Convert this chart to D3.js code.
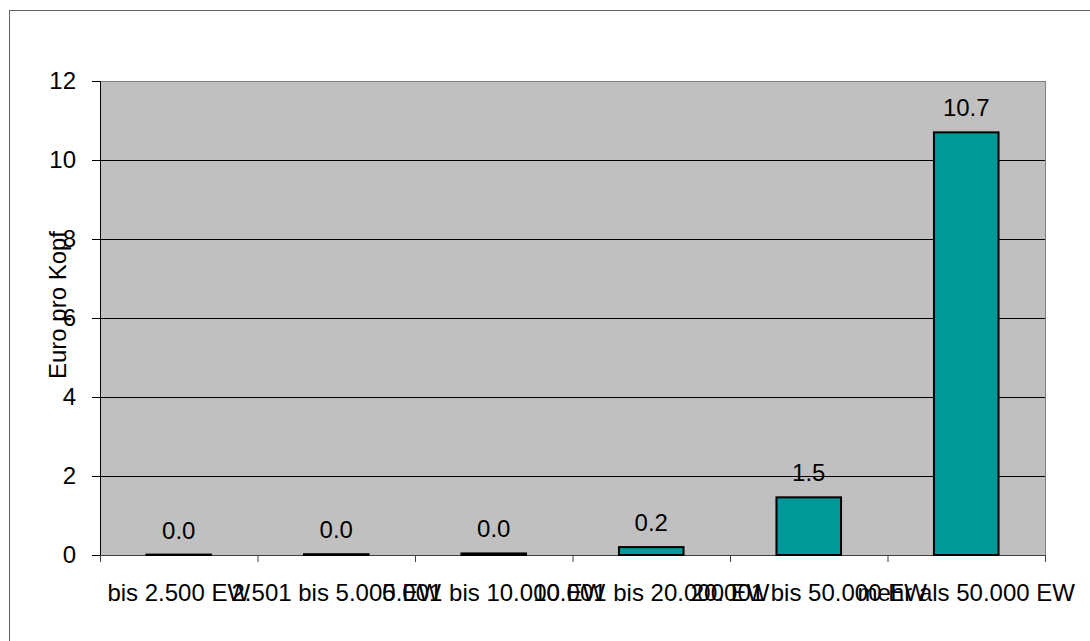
<!DOCTYPE html>
<html><head><meta charset="utf-8">
<script src="https://cdn.jsdelivr.net/npm/d3@7"></script>
<style>body{margin:0;background:#fff}svg{display:block}</style>
</head><body>
<script>
const categories = ["bis 2.500 EW","2.501 bis 5.000 EW","5.001 bis 10.000 EW","10.001 bis 20.000 EW","20.001 bis 50.000 EW","mehr als 50.000 EW"];
const values = [0.01, 0.02, 0.04, 0.2, 1.46, 10.7];
const valueLabels = ["0.0","0.0","0.0","0.2","1.5","10.7"];
const yTicks = [0,2,4,6,8,10,12];
const yTitle = "Euro pro Kopf";

const W = 1090, H = 641;
const m = {left:100, right:1045, top:81, bottom:555};
const font = "Liberation Sans, Arial, sans-serif";
const fs = 24;

const svg = d3.select("body").append("svg").attr("width",W).attr("height",H);

// outer chart border (extends beyond the picture on right/bottom)
svg.append("rect").attr("x",9.5).attr("y",10.5).attr("width",1200).attr("height",800)
  .attr("fill","none").attr("stroke","#606060").attr("stroke-width",1);

const x = d3.scaleBand().domain(categories).range([m.left,m.right]).paddingInner(0.59).paddingOuter(0.295);
const xb = d3.scaleLinear().domain([0,categories.length]).range([m.left,m.right]);
const y = d3.scaleLinear().domain([0,12]).range([m.bottom,m.top]);

// plot area
svg.append("rect").attr("x",m.left).attr("y",m.top).attr("width",m.right-m.left).attr("height",m.bottom-m.top)
  .attr("fill","#C0C0C0").attr("stroke","#808080").attr("stroke-width",1).attr("shape-rendering","crispEdges");

// gridlines
svg.append("g").selectAll("line").data(yTicks.filter(d=>d>0&&d<12)).join("line")
  .attr("x1",m.left).attr("x2",m.right).attr("y1",d=>Math.round(y(d))+0.5).attr("y2",d=>Math.round(y(d))+0.5)
  .attr("stroke","#000").attr("stroke-width",1);

// y axis
const ya = svg.append("g").attr("transform",`translate(${m.left},0)`)
  .call(d3.axisLeft(y).tickValues(yTicks).tickSize(8).tickPadding(16).tickFormat(d3.format("d")));
ya.select(".domain").attr("stroke","#000");
ya.selectAll(".tick line").attr("stroke","#000");
ya.selectAll("text").attr("font-family",font).attr("font-size",fs).attr("fill","#000");

// x axis: ticks at category boundaries
const xa = svg.append("g").attr("transform",`translate(0,${m.bottom})`)
  .call(d3.axisBottom(xb).tickValues(d3.range(categories.length+1)).tickSize(7).tickFormat(""));
xa.select(".domain").attr("stroke","#404040");
xa.selectAll(".tick line").attr("stroke","#404040");

// x labels
svg.append("g").selectAll("text").data(categories).join("text")
  .attr("x",d=>x(d)+x.bandwidth()/2).attr("y",601).attr("text-anchor","middle")
  .attr("font-family",font).attr("font-size",fs).attr("fill","#000").text(d=>d);

// bars
svg.append("g").selectAll("rect").data(values).join("rect")
  .attr("x",(d,i)=>x(categories[i])).attr("width",x.bandwidth())
  .attr("y",d=>y(d)).attr("height",d=>y(0)-y(d))
  .attr("fill","#009999").attr("stroke","#000").attr("stroke-width",2);

// value labels
svg.append("g").selectAll("text").data(values).join("text")
  .attr("x",(d,i)=>x(categories[i])+x.bandwidth()/2).attr("y",d=>y(d)-16).attr("text-anchor","middle")
  .attr("font-family",font).attr("font-size",fs).attr("fill","#000").text((d,i)=>valueLabels[i]);

// y title
svg.append("text").attr("transform","translate(66,305) rotate(-90)").attr("text-anchor","middle")
  .attr("font-family",font).attr("font-size",fs).attr("fill","#000").text(yTitle);
</script>
</body></html>
